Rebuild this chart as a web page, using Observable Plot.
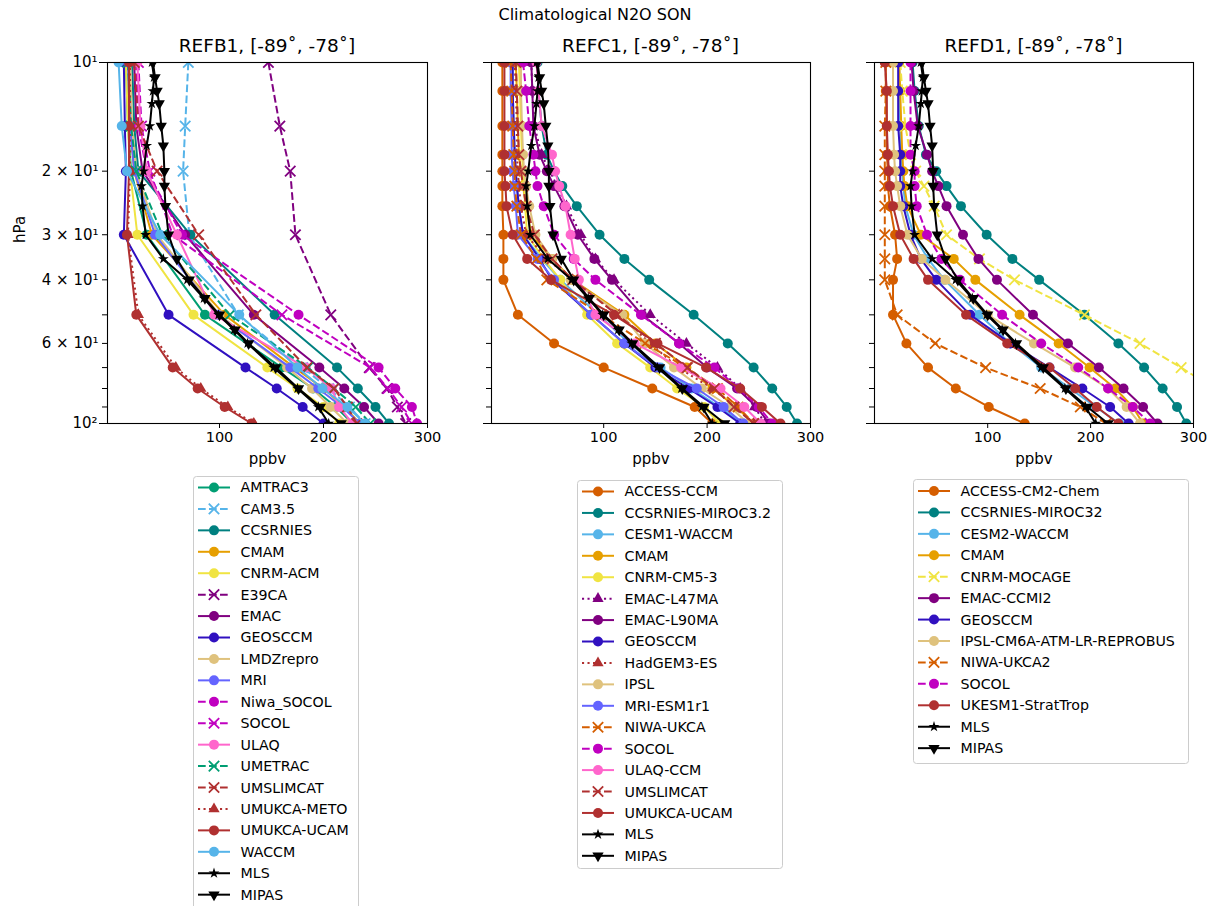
<!DOCTYPE html>
<html><head><meta charset="utf-8">
<script src="https://cdn.jsdelivr.net/npm/d3@7"></script>
<script src="https://cdn.jsdelivr.net/npm/@observablehq/plot@0.6"></script>
<style>
body{margin:0;background:#fff;font-family:"DejaVu Sans",sans-serif;}
#root{position:relative;width:1217px;height:906px;overflow:hidden;background:#fff;}
.abs{position:absolute;white-space:nowrap;color:#000;}
</style></head><body><div id="root"></div>
<script>
// ---------------- DATA ----------------
const levelsRefB1 = [10, 15, 20, 30, 50, 70, 80, 90, 100];
const levelsRefCD = [10, 12, 15, 18, 20, 22, 25, 30, 35, 40, 50, 60, 70, 80, 90, 100];
const obsLevels = [10, 11, 12, 13, 15, 17, 20, 22, 25, 30, 35, 40, 45, 50, 55, 60, 70, 80, 90, 100];
const mlsValues   = [35, 37, 36, 35, 33, 30, 27, 25, 26, 29, 46, 69, 85, 99, 114, 127, 152, 175, 195, 205];
const mipasValues = [36, 38, 40, 42, 44, 46, 47, 47, 48, 51, 59, 71, 86, 100, 115, 128, 154, 176, 197, 217];

const refb1Names = ["AMTRAC3","CAM3.5","CCSRNIES","CMAM","CNRM-ACM","E39CA","EMAC","GEOSCCM","LMDZrepro","MRI","Niwa_SOCOL","SOCOL","ULAQ","UMETRAC","UMSLIMCAT","UMUKCA-METO","UMUKCA-UCAM","WACCM"];
const refb1Values = [
  [10, 12, 15, 30, 86, 160, 190, 212, 228],
  [70, 67, 65, 71, 118, 180, 205, 225, 240],
  [16, 18, 22, 72, 153, 213, 233, 250, 263],
  [12, 14, 18, 35, 105, 172, 200, 220, 235],
  [10, 12, 14, 21, 75, 146, 175, 200, 215],
  [147, 158, 168, 173, 207, 244, 261, 271, 279],
  [18, 20, 26, 67, 133, 196, 220, 239, 253],
  [8, 9, 10, 8, 51, 125, 155, 180, 200],
  [14, 16, 20, 40, 100, 165, 189, 207, 223],
  [12, 14, 18, 38, 98, 168, 195, 218, 235],
  [20, 22, 30, 64, 176, 253, 269, 285, 290],
  [22, 25, 33, 55, 160, 245, 262, 275, 285],
  [21, 24, 30, 59, 95, 183, 208, 215, 228],
  [12, 15, 20, 45, 110, 185, 210, 231, 245],
  [18, 22, 40, 80, 135, 184, 210, 223, 232],
  [14, 14, 14, 12, 22, 58, 82, 108, 133],
  [13, 13, 13, 11, 20, 55, 79, 105, 131],
  [3, 6, 11, 43, 119, 175, 199, 223, 240]
];
const refb1Colors  = ["#009e73","#56b4e9","#008080","#e69f00","#f0e442","#800080","#800080","#3010c0","#dfc27d","#6464ff","#c000c0","#c000c0","#ff66cc","#009e73","#b03030","#b03030","#b03030","#56b4e9"];
const refb1Lines   = ["-","--","-","-","-","--","-","-","-","-","--","--","-","--","--",":","-","-"];
const refb1Markers = ["o","x","o","o","o","x","o","o","o","o","o","x","o","x","x","^","o","o"];

const refc1Names = ["ACCESS-CCM","CCSRNIES-MIROC3.2","CESM1-WACCM","CMAM","CNRM-CM5-3","EMAC-L47MA","EMAC-L90MA","GEOSCCM","HadGEM3-ES","IPSL","MRI-ESM1r1","NIWA-UKCA","SOCOL","ULAQ-CCM","UMSLIMCAT","UMUKCA-UCAM"];
const refc1Values = [
  [2, 2, 2, 2, 2, 2, 2, 3, 3, 3, 17, 52, 100, 147, 188, 205],
  [36, 37, 40, 45, 52, 60, 74, 96, 120, 144, 187, 220, 245, 263, 277, 287],
  [12, 12, 13, 14, 15, 16, 18, 22, 40, 58, 95, 125, 155, 185, 212, 235],
  [15, 16, 17, 18, 20, 22, 25, 30, 50, 70, 120, 150, 180, 205, 228, 245],
  [18, 19, 20, 21, 22, 23, 24, 26, 42, 58, 84, 113, 145, 171, 197, 212],
  [30, 31, 33, 40, 48, 55, 64, 78, 92, 110, 145, 180, 210, 232, 246, 256],
  [30, 31, 32, 38, 45, 52, 62, 75, 91, 108, 137, 173, 200, 229, 248, 260],
  [12, 12, 13, 14, 15, 16, 18, 22, 38, 50, 88, 120, 150, 182, 210, 232],
  [14, 15, 16, 16, 17, 18, 20, 25, 45, 70, 115, 145, 172, 205, 228, 245],
  [20, 20, 21, 22, 23, 25, 28, 34, 50, 68, 118, 140, 168, 195, 222, 240],
  [10, 10, 11, 11, 12, 13, 15, 17, 36, 52, 88, 120, 152, 190, 216, 235],
  [10, 11, 12, 13, 14, 14, 16, 20, 35, 45, 98, 140, 180, 210, 230, 245],
  [22, 25, 28, 32, 34, 36, 42, 52, 71, 92, 136, 173, 207, 231, 250, 263],
  [35, 37, 40, 50, 53, 57, 63, 68, 72, 76, 92, 130, 175, 213, 236, 252],
  [15, 16, 17, 18, 20, 22, 25, 33, 50, 70, 113, 150, 181, 207, 226, 245],
  [4, 4, 4, 4, 4, 5, 6, 12, 26, 49, 110, 152, 199, 232, 253, 271]
];
const refc1Colors  = ["#d55e00","#008080","#56b4e9","#e69f00","#f0e442","#800080","#800080","#3010c0","#b03030","#dfc27d","#6464ff","#d55e00","#c000c0","#ff66cc","#b03030","#b03030"];
const refc1Lines   = ["-","-","-","-","-",":","-","-",":","-","-","--","--","-","--","-"];
const refc1Markers = ["o","o","o","o","o","^","o","o","^","o","o","x","o","o","x","o"];

const refd1Names = ["ACCESS-CM2-Chem","CCSRNIES-MIROC32","CESM2-WACCM","CMAM","CNRM-MOCAGE","EMAC-CCMI2","GEOSCCM","IPSL-CM6A-ATM-LR-REPROBUS","NIWA-UKCA2","SOCOL","UKESM1-StratTrop"];
const refd1Values = [
  [1, 1, 2, 2, 3, 3, 5, 10, 12, 8, 8, 21, 42, 69, 101, 136],
  [27, 29, 33, 40, 50, 60, 74, 99, 124, 150, 194, 227, 252, 270, 284, 293],
  [14, 14, 15, 16, 17, 18, 20, 28, 42, 58, 92, 122, 152, 180, 205, 228],
  [14, 15, 16, 17, 18, 19, 22, 35, 67, 88, 131, 169, 199, 224, 241, 251],
  [15, 17, 20, 25, 30, 38, 48, 60, 92, 126, 194, 248, 288, 320, 345, 365],
  [26, 28, 32, 41, 46, 52, 60, 76, 91, 109, 144, 178, 208, 232, 251, 265],
  [13, 13, 13, 15, 15, 15, 18, 25, 35, 50, 83, 122, 160, 192, 219, 237],
  [8, 8, 8, 9, 10, 12, 15, 22, 36, 59, 100, 145, 185, 217, 235, 248],
  [1, 1, 0, 0, 0, 0, 0, 0, 0, 0, 12, 49, 98, 151, 190, 215],
  [25, 25, 25, 25, 29, 29, 31, 41, 55, 73, 114, 152, 188, 217, 241, 258],
  [0, 2, 2, 3, 4, 5, 8, 15, 28, 42, 79, 119, 160, 185, 206, 227]
];
const refd1Colors  = ["#d55e00","#008080","#56b4e9","#e69f00","#f0e442","#800080","#3010c0","#dfc27d","#d55e00","#c000c0","#b03030"];
const refd1Lines   = ["-","-","-","-","--","-","-","-","--","--","-"];
const refd1Markers = ["o","o","o","o","x","o","o","o","x","o","o"];

const panelTitles = ["REFB1, [-89˚, -78˚]", "REFC1, [-89˚, -78˚]", "REFD1, [-89˚, -78˚]"];
const xTicks = [100, 200, 300];
const yMajorTicks = [10, 100];
const yMinorTicks = [20, 30, 40, 50, 60, 70, 80, 90];
const yTickLabels = {10: "10¹", 20: "2 × 10¹", 30: "3 × 10¹", 40: "4 × 10¹", 60: "6 × 10¹", 100: "10²"};

// ---------------- RENDERING ----------------
const root = document.getElementById("root");
const FONT = "DejaVu Sans";
const dashes = {"-": null, "--": "7.7,3.3", ":": "2.1,3.4"};
const triangleDown = {
  draw(context, size) {
    const y = Math.sqrt(size / (Math.sqrt(3) * 3));
    context.moveTo(0, 2 * y);
    context.lineTo(-Math.sqrt(3) * y, -y);
    context.lineTo(Math.sqrt(3) * y, -y);
    context.closePath();
  }
};
function markerSpec(m) {
  if (m === "o") return {symbol: "circle", r: 5, kind: "fill", d3t: d3.symbolCircle};
  if (m === "x") return {symbol: "times", r: 4.8, kind: "stroke", d3t: d3.symbolTimes};
  if (m === "^") return {symbol: "triangle", r: 4.2, kind: "fill", d3t: d3.symbolTriangle};
  if (m === "v") return {symbol: triangleDown, r: 4.2, kind: "fill", d3t: triangleDown};
  return {symbol: "star", r: 3.4, kind: "fill", d3t: d3.symbolStar};
}

function buildSeries(names, values, colors, lines, markers, levels) {
  const s = names.map((n, i) => ({name: n, levels, values: values[i], color: colors[i], line: lines[i], marker: markers[i]}));
  s.push({name: "MLS", levels: obsLevels, values: mlsValues, color: "#000000", line: "-", marker: "*"});
  s.push({name: "MIPAS", levels: obsLevels, values: mipasValues, color: "#000000", line: "-", marker: "v"});
  return s;
}

const panels = [
  {series: buildSeries(refb1Names, refb1Values, refb1Colors, refb1Lines, refb1Markers, levelsRefB1),
   left: 0, width: 440, ml: 107, mr: 13, xdom: [-7.7, 300], labels: true,
   legend: {x: 193, y: 476, w: 165, h: 440, y0: 487.5}},
  {series: buildSeries(refc1Names, refc1Values, refc1Colors, refc1Lines, refc1Markers, levelsRefCD),
   left: 470, width: 360, ml: 21, mr: 20, xdom: [-8.5, 300], labels: false,
   legend: {x: 577, y: 480, w: 205, h: 388, y0: 491.5}},
  {series: buildSeries(refd1Names, refd1Values, refd1Colors, refd1Lines, refd1Markers, levelsRefCD),
   left: 855, width: 360, ml: 19, mr: 22, xdom: [-10, 300], labels: false,
   legend: {x: 913, y: 479, w: 275, h: 284, y0: 491}}
];

// suptitle
const sup = document.createElement("div");
sup.className = "abs";
sup.style.cssText = `left:0;width:1190px;top:5px;text-align:center;font:16px "${FONT}";line-height:20px;`;
sup.textContent = "Climatological N2O SON";
root.appendChild(sup);

panels.forEach((p, k) => {
  const marks = [];
  p.series.forEach(s => {
    const data = s.levels.map((lev, j) => ({p: lev, v: s.values[j]}));
    marks.push(Plot.line(data, {x: "v", y: "p", stroke: s.color, strokeWidth: 2,
      strokeDasharray: dashes[s.line], strokeLinecap: s.line === "-" ? "round" : "butt", clip: true}));
    const ms = markerSpec(s.marker);
    const dotOpts = {x: "v", y: "p", symbol: ms.symbol, r: ms.r, clip: true};
    if (ms.kind === "stroke") { dotOpts.stroke = s.color; dotOpts.strokeWidth = 1.8; dotOpts.fill = "none"; }
    else { dotOpts.fill = s.color; dotOpts.stroke = "none"; }
    marks.push(Plot.dot(data, dotOpts));
  });
  marks.push(Plot.frame({stroke: "black", strokeWidth: 1.1}));
  marks.push(Plot.axisX({ticks: xTicks, tickSize: 5, tickPadding: 3, label: null, fontSize: 14.5, tickFormat: d => String(d)}));
  marks.push(Plot.axisY({ticks: yMajorTicks, tickSize: 8, tickPadding: 2, label: null, fontSize: 15,
    tickFormat: d => p.labels ? (yTickLabels[d] || "") : ""}));
  marks.push(Plot.axisY({ticks: yMinorTicks, tickSize: 5, tickPadding: 4, label: null, fontSize: 15,
    tickFormat: d => p.labels ? (yTickLabels[d] || "") : ""}));
  marks.push(Plot.text(["ppbv"], {frameAnchor: "bottom", dy: 40, text: d => d, fontSize: 15}));
  if (p.labels) marks.push(Plot.text(["hPa"], {frameAnchor: "left", dx: -87, rotate: -90, text: d => d, fontSize: 15}));

  const chart = Plot.plot({
    width: p.width, height: 480,
    marginLeft: p.ml, marginRight: p.mr, marginTop: 62, marginBottom: 57,
    style: {fontFamily: FONT, fontSize: "14.5px", color: "black", background: "transparent", overflow: "visible"},
    x: {domain: p.xdom, axis: null},
    y: {type: "log", domain: [10, 100], reverse: true, axis: null},
    marks
  });
  const holder = document.createElement("div");
  holder.className = "abs";
  holder.style.left = p.left + "px";
  holder.style.top = "0px";
  holder.appendChild(chart);
  root.appendChild(holder);

  // panel title
  const fx0 = p.left + p.ml, fx1 = p.left + p.width - p.mr;
  const t = document.createElement("div");
  t.className = "abs";
  t.style.cssText = `left:${(fx0 + fx1) / 2 - 150}px;width:300px;top:35px;text-align:center;font:18.5px "${FONT}";line-height:22px;`;
  t.textContent = panelTitles[k];
  root.appendChild(t);

  // legend
  const L = p.legend;
  const svg = d3.select(root).append("svg")
    .attr("class", "abs")
    .style("left", L.x + "px").style("top", L.y + "px")
    .attr("width", L.w + 2).attr("height", L.h + 2)
    .style("overflow", "visible");
  svg.append("rect").attr("x", 0.5).attr("y", 0.5).attr("width", L.w).attr("height", L.h)
    .attr("rx", 3).attr("fill", "rgba(255,255,255,0.8)").attr("stroke", "#cccccc").attr("stroke-width", 1);
  p.series.forEach((s, i) => {
    const yy = L.y0 - L.y + 21.43 * i;
    const g = svg.append("g").attr("transform", `translate(0,${yy})`);
    g.append("line").attr("x1", 5).attr("x2", 37).attr("y1", 0).attr("y2", 0)
      .attr("stroke", s.color).attr("stroke-width", 2)
      .attr("stroke-dasharray", dashes[s.line]).attr("stroke-linecap", "butt");
    const ms = markerSpec(s.marker);
    const path = d3.symbol().type(ms.d3t).size(Math.PI * ms.r * ms.r)();
    const mk = g.append("path").attr("d", path).attr("transform", "translate(21,0)");
    if (ms.kind === "stroke") mk.attr("fill", "none").attr("stroke", s.color).attr("stroke-width", 1.8);
    else mk.attr("fill", s.color);
    g.append("text").attr("x", 47.5).attr("y", 0).attr("dy", "0.35em")
      .style("font-family", FONT).style("font-size", "14.2px").attr("fill", "#000").text(s.name);
  });
});
</script></body></html>
